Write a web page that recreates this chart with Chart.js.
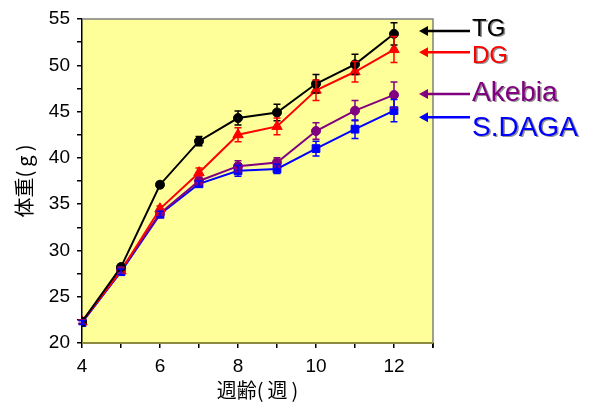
<!DOCTYPE html>
<html>
<head>
<meta charset="utf-8">
<script src="https://cdn.jsdelivr.net/npm/chart.js@4/dist/chart.umd.min.js"></script>
<style>
  html, body { margin: 0; padding: 0; background: #fff; }
  #wrap { width: 592px; height: 402px; }
</style>
</head>
<body>
<div id="wrap"><canvas id="myChart" width="592" height="402"></canvas></div>
<script>
// weeks of age
var weeks = [4, 5, 6, 7, 8, 9, 10, 11, 12];

// body weight (g) per group
var tg     = [22.3, 28.2, 37.1, 41.8, 44.3, 44.9, 48.0, 50.1, 53.4];
var dg     = [22.3, 27.8, 34.5, 38.4, 42.5, 43.4, 47.3, 49.3, 51.7];
var akebia = [22.3, 27.9, 34.0, 37.5, 39.1, 39.5, 42.9, 45.1, 46.8];
var sdaga  = [22.2, 27.7, 33.9, 37.2, 38.6, 38.8, 41.0, 43.1, 45.1];

// error (+/-)
var tgErr     = [0.2, 0.3, 0.3, 0.5, 0.75, 0.9, 1.0, 1.1, 1.2];
var dgErr     = [0.2, 0.3, 0.3, 0.5, 0.75, 0.9, 1.1, 1.1, 1.4];
var akebiaErr = [0.2, 0.3, 0.3, 0.4, 0.6, 0.5, 0.9, 1.1, 1.4];
var sdagaErr  = [0.2, 0.3, 0.3, 0.3, 0.6, 0.5, 0.8, 1.0, 1.2];

var names = ['TG', 'DG', 'Akebia', 'S.DAGA'];
var colors = ['#000000', '#ff0000', '#800080', '#0000ff'];
var nameSize = [24, 24, 28, 28];
// where the side labels sit (y units): arrow and text
var arrowAt = [53.7, 51.4, 46.9, 44.4];
var textAt  = [53.9, 51.0, 47.0, 43.2];

function pts(vals) {
    var out = [];
    for (var i in weeks) out.push({x: weeks[i], y: vals[i]});
    return out;
}

const errs = [tgErr, dgErr, akebiaErr, sdagaErr];

const plotBg = {
    id: 'plotBg',
    beforeDraw(chart) {
        const a = chart.chartArea, c = chart.ctx;
        c.save();
        c.fillStyle = '#ffff99';
        c.fillRect(a.left, a.top, a.right - a.left, a.bottom - a.top);
        c.restore();
    },
    afterDraw(chart) {
        const a = chart.chartArea, c = chart.ctx;
        c.save();
        c.strokeStyle = '#808080';
        c.lineWidth = 1.5;
        c.beginPath();
        c.moveTo(a.left, a.top);
        c.lineTo(a.right, a.top);
        c.lineTo(a.right, a.bottom);
        c.stroke();
        c.strokeStyle = '#000';
        c.lineWidth = 1.5;
        c.beginPath();
        c.moveTo(a.right, a.bottom);
        c.lineTo(a.right, a.bottom + 5);
        c.stroke();
        c.strokeStyle = '#8a8a40';
        c.lineWidth = 2;
        c.beginPath();
        c.moveTo(a.left, a.bottom);
        c.lineTo(a.right, a.bottom);
        c.stroke();

        // side labels with arrows
        const y = chart.scales.y;
        for (var i = 0; i < names.length; i++) {
            var ay = y.getPixelForValue(arrowAt[i]);
            var tip = a.right - 14;
            c.strokeStyle = colors[i];
            c.fillStyle = colors[i];
            c.lineWidth = 2.5;
            c.beginPath();
            c.moveTo(tip + 6, ay);
            c.lineTo(a.right + 37, ay);
            c.stroke();
            c.beginPath();
            c.moveTo(tip, ay);
            c.lineTo(tip + 9, ay - 5);
            c.lineTo(tip + 9, ay + 5);
            c.closePath();
            c.fill();

            var ty = y.getPixelForValue(textAt[i]);
            c.font = nameSize[i] + 'px "Liberation Sans", Arial, sans-serif';
            c.textBaseline = 'middle';
            c.textAlign = 'left';
            c.fillStyle = 'rgba(40,40,40,0.5)';
            c.fillText(names[i], a.right + 40.5, ty + 1.2);
            c.fillStyle = colors[i];
            c.fillText(names[i], a.right + 39, ty);
        }
        c.restore();
    }
};

const errorBars = {
    id: 'errorBars',
    afterDatasetsDraw(chart) {
        const c = chart.ctx, x = chart.scales.x, y = chart.scales.y;
        c.save();
        chart.data.datasets.forEach(function(ds, di) {
            var e = errs[di];
            c.strokeStyle = ds.borderColor;
            c.lineWidth = 1.5;
            ds.data.forEach(function(p, i) {
                var px = x.getPixelForValue(p.x);
                var top = y.getPixelForValue(p.y + e[i]);
                var bot = y.getPixelForValue(p.y - e[i]);
                c.beginPath();
                c.moveTo(px, top); c.lineTo(px, bot);
                c.moveTo(px - 3.5, top); c.lineTo(px + 3.5, top);
                c.moveTo(px - 3.5, bot); c.lineTo(px + 3.5, bot);
                c.stroke();
            });
        });
        c.restore();
    }
};

const chartdata = {
    datasets: [{
            label: 'TG',
            borderColor: colors[0],
            backgroundColor: colors[0],
            pointStyle: 'circle',
            pointRadius: 4.5,
            data: pts(tg)
        },
        {
            label: 'DG',
            borderColor: colors[1],
            backgroundColor: colors[1],
            pointStyle: 'triangle',
            pointRadius: 6,
            data: pts(dg)
        },
        {
            label: 'Akebia',
            borderColor: colors[2],
            backgroundColor: colors[2],
            pointStyle: 'circle',
            pointRadius: 4.5,
            data: pts(akebia)
        },
        {
            label: 'S.DAGA',
            borderColor: colors[3],
            backgroundColor: colors[3],
            pointStyle: 'rect',
            pointRadius: 5.5,
            data: pts(sdaga)
        }
    ]
};

const tickFont = { family: '"Liberation Sans", Arial, sans-serif', size: 19 };
const titleFont = { family: '"Noto Sans CJK JP", sans-serif', size: 20 };

const config = {
    type: 'line',
    data: chartdata,
    options: {
        animation: false,
        responsive: false,
        layout: { padding: { top: 19, right: 159, left: 0, bottom: 0 } },
        elements: { line: { borderWidth: 2, tension: 0 } },
        plugins: { legend: { display: false }, tooltip: { enabled: false } },
        scales: {
            x: {
                type: 'linear',
                min: 4,
                max: 13,
                afterFit: function(s) { s.height = 59; },
                border: { display: false },
                grid: { drawOnChartArea: false, drawTicks: true, tickLength: 5, color: '#000', lineWidth: 1.5 },
                ticks: {
                    stepSize: 1,
                    padding: 7,
                    color: '#000',
                    font: tickFont,
                    maxRotation: 0,
                    autoSkip: false,
                    callback: function(v) { return (v % 2 === 0 && v <= 12) ? v : ''; }
                },
                title: { display: true, text: '週齢(\u2009週\u2009)', color: '#000', font: titleFont, padding: { top: 0, bottom: 0 } }
            },
            y: {
                min: 20,
                max: 55,
                afterFit: function(s) { s.width = 82; },
                border: { display: true, color: '#000', width: 1.5 },
                grid: { drawOnChartArea: false, drawTicks: true, tickLength: 5, color: '#000', lineWidth: 1.5 },
                ticks: {
                    stepSize: 2.5,
                    padding: 7,
                    color: '#000',
                    font: tickFont,
                    autoSkip: false,
                    callback: function(v) { return v % 5 === 0 ? v : ''; }
                },
                title: { display: true, text: '体重(\u2009g\u2009)', color: '#000', font: titleFont, padding: { top: 12, bottom: 0 } }
            }
        }
    },
    plugins: [plotBg, errorBars]
};

var myChart = new Chart(document.getElementById('myChart'), config);
</script>
</body>
</html>
